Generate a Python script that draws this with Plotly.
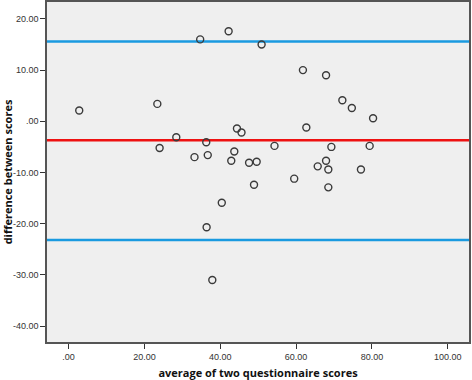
import plotly.graph_objects as go

# Bland-Altman data: average of two scores (x) vs difference (y)
avg_scores = [2.8, 23.4, 28.4, 24.0, 33.2, 34.7, 42.2, 50.9, 61.8, 67.9,
              44.4, 45.6, 62.7, 36.3, 54.3, 36.7, 43.7, 42.9, 47.6, 49.6,
              48.9, 59.5, 40.4, 36.4, 37.9, 65.7, 67.9, 68.5, 68.5, 69.3,
              72.2, 74.7, 80.3, 79.4, 77.1]
diff_scores = [2.1, 3.4, -3.1, -5.2, -7.0, 16.0, 17.6, 15.0, 10.0, 9.0,
               -1.4, -2.2, -1.2, -4.1, -4.8, -6.6, -5.9, -7.7, -8.1, -7.9,
               -12.4, -11.2, -15.9, -20.7, -31.0, -8.8, -7.7, -9.4, -12.9, -5.0,
               4.1, 2.6, 0.6, -4.8, -9.4]

mean_diff = -3.7
upper_loa = 15.6
lower_loa = -23.2

x_ticks = [0, 20, 40, 60, 80, 100]
x_tick_labels = [".00", "20.00", "40.00", "60.00", "80.00", "100.00"]
y_ticks = [20, 10, 0, -10, -20, -30, -40]
y_tick_labels = ["20.00", "10.00", ".00", "-10.00", "-20.00", "-30.00", "-40.00"]

x_range = [-5.7, 105.6]
y_range = [-43.1, 23.3]

fig = go.Figure()

for val, col in [(upper_loa, "#1a9ae0"), (lower_loa, "#1a9ae0"), (mean_diff, "#ee1111")]:
    fig.add_trace(go.Scatter(x=x_range, y=[val, val], mode="lines",
                             line=dict(color=col, width=2.5),
                             hoverinfo="skip", showlegend=False))

fig.add_trace(go.Scatter(
    x=avg_scores, y=diff_scores, mode="markers",
    marker=dict(symbol="circle-open", size=7, color="#3a3a3a", line=dict(width=1.4)),
    showlegend=False))

axis_common = dict(showgrid=False, zeroline=False, showline=True, mirror=True,
                   linecolor="#555555", linewidth=1.5, ticks="outside", ticklen=5,
                   tickcolor="#333333", tickwidth=1.2, automargin=False,
                   tickfont=dict(family="Liberation Sans", size=9, color="#333333"))

fig.update_layout(
    width=472, height=380,
    margin=dict(l=47, r=3, t=2, b=38),
    paper_bgcolor="white",
    plot_bgcolor="#efefef",
    xaxis=dict(range=x_range, tickvals=x_ticks, ticktext=x_tick_labels,
               title=dict(text="average of two questionnaire scores", standoff=10,
                          font=dict(family="Open Sans", size=11, color="#111111",
                                    weight="bold")),
               **axis_common),
    yaxis=dict(range=y_range, tickvals=y_ticks, ticktext=y_tick_labels,
               title=dict(text="difference between scores", standoff=2,
                          font=dict(family="Open Sans", size=11, color="#111111",
                                    weight="bold")),
               **axis_common),
)

fig.write_html("out.html",
               config={"displayModeBar": False},
               post_script="document.body.style.margin='0';document.body.style.overflow='hidden';")
